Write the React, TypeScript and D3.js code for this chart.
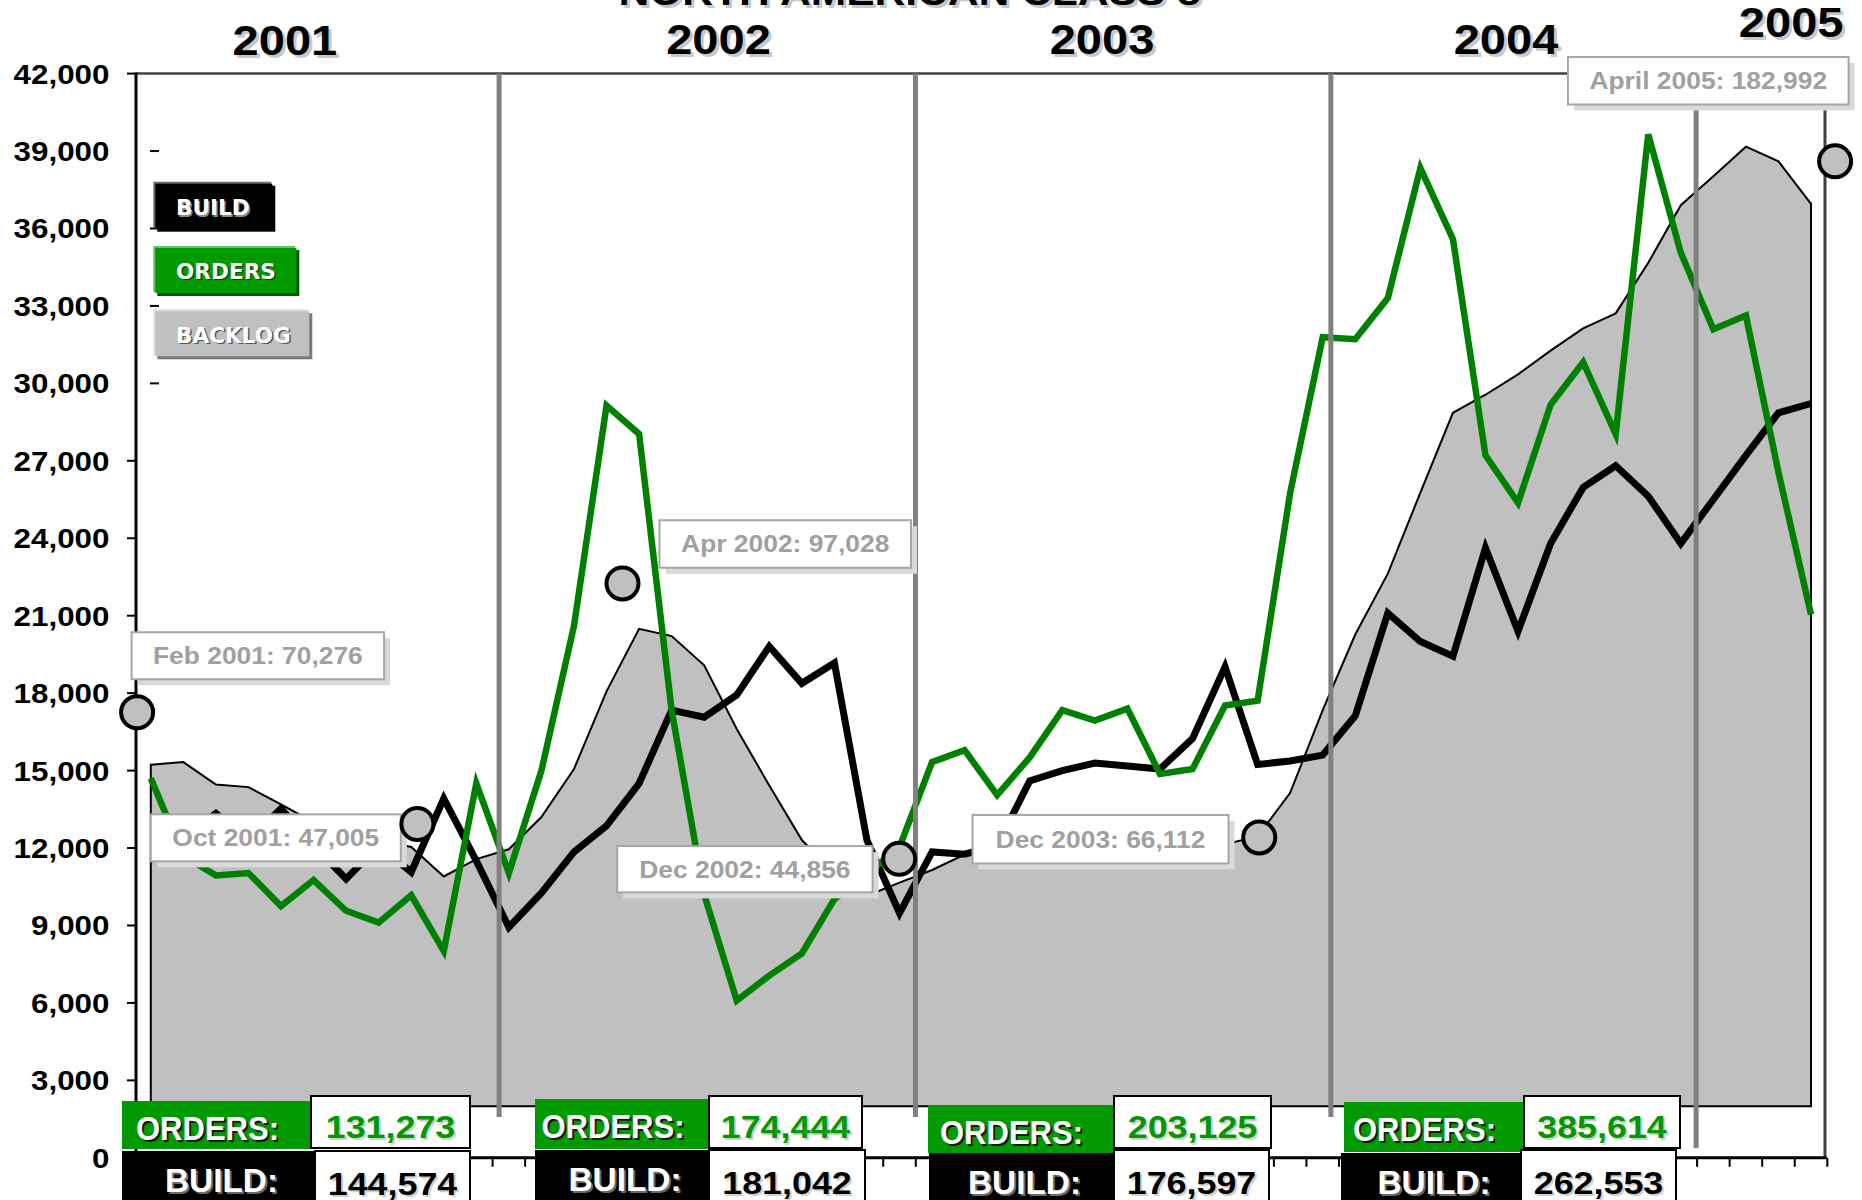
import React from 'react';
import * as d3 from 'd3';

// ---------- data ----------
const monthStarts = d3.timeMonth.range(new Date(2001, 0, 1), new Date(2005, 4, 1));
const monthLabels = monthStarts.map(d3.timeFormat('%b %Y'));

const ordersSeries = [
  14700, 11700, 10940, 11030, 9750, 10760, 9570, 9110, 10170, 8010, 14500, 11030,
  15000, 20600, 29140, 28040, 17340, 10200, 6090, 7060, 7920, 10020, 11000, 12040,
  15330, 15790, 14050, 15510, 17340, 16940, 17400, 14870, 15060, 17520, 17710, 25760,
  31790, 31710, 33310, 38340, 35590, 27210, 25370, 29170, 30820, 28040, 39650, 35060,
  32100, 32630, 26550, 21050,
];
const buildSeries = [
  12600, 12400, 13340, 12300, 13530, 12100, 10800, 12100, 11070, 13920, 11500, 8930,
  10260, 11850, 12860, 14500, 17340, 17070, 17930, 19810, 18380, 19170, 12300, 9480,
  11850, 11760, 12100, 14600, 15000, 15290, 15180, 15060, 16240, 19020, 15240, 15370,
  15600, 17120, 21100, 20000, 19430, 23620, 20400, 23800, 25970, 26810, 25630, 23800,
  25500, 27210, 28860, 29220,
];
const backlogSeries = [
  15230, 15330, 14460, 14360, 13690, 13000, 12600, 12300, 12040, 10900, 11570, 11950,
  13200, 15060, 18070, 20490, 20210, 19080, 16610, 14420, 12310, 11000, 10150, 10660,
  11150, 11750, 11950, 12050, 12100, 12150, 12150, 12150, 12150, 12150, 12450, 14140,
  17340, 20270, 22630, 25770, 28860, 29560, 30350, 31270, 32130, 32710, 34670, 36900,
  38020, 39170, 38600, 36950,
];
const backlogBaseline = 2000;

const yTickValues = [0, 3000, 6000, 9000, 12000, 15000, 18000, 21000, 24000, 27000, 30000, 33000, 36000, 39000, 42000];
const yTickLabels = ['0', '3,000', '6,000', '9,000', '12,000', '15,000', '18,000', '21,000', '24,000', '27,000', '30,000', '33,000', '36,000', '39,000', '42,000'];

const chartTitle = 'NORTH AMERICAN CLASS 8';
const yearHeaders = ['2001', '2002', '2003', '2004', '2005'];
const yearHeaderAt = [4.12, 17.44, 29.22, 41.63, 50.39];
const yearBoundaries = [10.7, 23.49, 36.25, 47.47];

const summaryYears = ['2001', '2002', '2003', '2004'];
const ordersTotals = [131273, 174444, 203125, 385614];
const buildTotals = [144574, 181042, 176597, 262553];

const noteTexts = ['Feb 2001: 70,276', 'Oct 2001: 47,005', 'Apr 2002: 97,028', 'Dec 2002: 44,856', 'Dec 2003: 66,112', 'April 2005: 182,992'];
const noteAt = [-0.42, 8.19, 14.49, 22.99, 34.05, 51.74];
const noteValue = [17260, 12930, 22250, 11580, 12410, 38600];

const legendNames = ['BUILD', 'ORDERS', 'BACKLOG'];

// ---------- layout / style ----------
const W = 1862;
const H = 1200;
const X0 = 134.5, X1 = 1827.3, Y0 = 1157.8, Y1 = 73.6;
const AXIS_X = 136;
const RIGHT_X = 1825;
const SANS = "'Liberation Sans', Arial, Helvetica, sans-serif";
const DEJAVU = "'DejaVu Sans', Verdana, sans-serif";
const GREEN_LINE = '#008000';
const GREEN_BOX = '#009900';
const SX = 1.12;

const yearHeaderBaseline = [55, 54, 54, 54, 37];
const separatorBottom = [1117, 1117, 1117, 1148];

const noteBoxes = [
  [-5.5, -80, 252.5, 47],
  [-266.6, -9.7, 250, 47],
  [37, -63.2, 251.5, 47.5],
  [-282, -12.8, 255.4, 46.3],
  [-286.7, -22.5, 256, 48.5],
  [-267.2, -104.4, 280.7, 47.5],
];

const legendBoxes = [
  { x: 153.3, y: 181.7, w: 118, h: 46, hi: '#6e6e6e', main: '#000000', lo: '#000000', ts: '#8a8a8a', ty: 215 },
  { x: 153.3, y: 246, w: 142, h: 46, hi: '#66c266', main: GREEN_BOX, lo: '#005a00', ts: '#005000', ty: 278.5 },
  { x: 153.3, y: 309.3, w: 155, h: 46, hi: '#dcdcdc', main: '#c0c0c0', lo: '#7a7a7a', ts: '#555555', ty: 342.7 },
];

const summaryLayout = [
  { ol: [122, 1101, 189, 48], ov: [311, 1096, 159, 52], bl: [122, 1151, 193, 60], bv: [315, 1151, 155, 60] },
  { ol: [535, 1099, 174, 50], ov: [709, 1096, 153, 52], bl: [535, 1150, 174, 60], bv: [709, 1150, 156, 60] },
  { ol: [928, 1105, 185, 48], ov: [1114, 1096, 157, 52], bl: [929, 1153, 185, 60], bv: [1114, 1150, 155, 60] },
  { ol: [1344, 1102, 179, 50], ov: [1524, 1096, 156, 52], bl: [1341, 1153, 180, 60], bv: [1521, 1150, 155, 60] },
];

const x = d3.scaleLinear().domain([-0.5, 51.5]).range([X0, X1]);
const y = d3.scaleLinear().domain([0, 42000]).range([Y0, Y1]);
const fmt = d3.format(',');

function Txt(props: any) {
  const { x, y, sx = 1, size, fill, anchor = 'middle', family = SANS, weight = 700, shadow, sdx = 2, sdy = 2, textLength, children } = props;
  const common: any = {
    fontFamily: family,
    fontSize: size,
    fontWeight: weight,
    textAnchor: anchor,
  };
  if (textLength) {
    common.textLength = textLength;
    common.lengthAdjust = 'spacingAndGlyphs';
  }
  return (
    <g transform={`translate(${x},${y}) scale(${sx},1)`}>
      {shadow && (
        <text x={sdx / sx} y={sdy} fill={shadow} {...common}>
          {children}
        </text>
      )}
      <text x={0} y={0} fill={fill} {...common}>
        {children}
      </text>
    </g>
  );
}

export default function App() {
  const lineGen = d3
    .line<number>()
    .x((_, i) => x(i))
    .y((d) => y(d));
  const areaGen = d3
    .area<number>()
    .x((_, i) => x(i))
    .y0(y(backlogBaseline))
    .y1((d) => y(d));

  const xTickIdx = d3.range(-0.5, 52, 1);

  return (
    <svg
      width={W}
      height={H}
      viewBox={`0 0 ${W} ${H}`}
      style={{ position: 'absolute', left: 0, top: 0, display: 'block', background: '#fff' }}
    >
      <rect x={0} y={0} width={W} height={H} fill="#ffffff" />

      {/* backlog area */}
      <path d={areaGen(backlogSeries) || ''} fill="#c0c0c0" stroke="#000" strokeWidth={2} strokeLinejoin="miter" />

      {/* build & orders */}
      <path d={lineGen(buildSeries) || ''} fill="none" stroke="#000" strokeWidth={7} strokeLinejoin="miter" strokeMiterlimit={4} />
      <path d={lineGen(ordersSeries) || ''} fill="none" stroke={GREEN_LINE} strokeWidth={6.5} strokeLinejoin="miter" strokeMiterlimit={4} />

      {/* frame */}
      <line x1={AXIS_X} x2={RIGHT_X} y1={Y1} y2={Y1} stroke="#404040" strokeWidth={2.5} />
      <line x1={RIGHT_X} x2={RIGHT_X} y1={Y1} y2={Y0} stroke="#404040" strokeWidth={3} />

      {/* year separators */}
      {yearBoundaries.map((b, i) => (
        <line key={'sep' + i} x1={x(b)} x2={x(b)} y1={Y1} y2={separatorBottom[i]} stroke="#808080" strokeWidth={5} />
      ))}

      {/* axes */}
      <line x1={AXIS_X} x2={AXIS_X} y1={Y1 - 1} y2={Y0 + 1} stroke="#000" strokeWidth={3} />
      <line x1={AXIS_X} x2={RIGHT_X + 1.5} y1={Y0} y2={Y0} stroke="#000" strokeWidth={3} />
      {xTickIdx.map((t) => (
        <line key={'xt' + t} x1={x(t)} x2={x(t)} y1={Y0} y2={Y0 + 9} stroke="#000" strokeWidth={2} />
      ))}
      {yTickValues.map((v, i) => {
        const inner = v >= 30000 && v < 42000;
        return (
          <g key={'yt' + v}>
            {inner ? (
              <line x1={150} x2={159} y1={y(v)} y2={y(v)} stroke="#000" strokeWidth={2} />
            ) : (
              <line x1={127} x2={AXIS_X} y1={y(v)} y2={y(v)} stroke="#000" strokeWidth={2} />
            )}
            <Txt x={109.5} y={y(v) + 10} sx={SX} size={28} fill="#000" anchor="end">
              {yTickLabels[i]}
            </Txt>
          </g>
        );
      })}

      {/* title & year headers */}
      <Txt x={909.6} y={5} sx={SX} size={38} fill="#000" shadow="#c8c8c8" sdx={3} sdy={3}>
        {chartTitle}
      </Txt>
      {yearHeaders.map((yr, i) => (
        <Txt key={'yh' + yr} x={x(yearHeaderAt[i])} y={yearHeaderBaseline[i]} sx={SX} size={42} fill="#000" shadow="#c8c8c8" sdx={3} sdy={3}>
          {yr}
        </Txt>
      ))}

      {/* legend */}
      {legendNames.map((name, i) => {
        const b = legendBoxes[i];
        return (
          <g key={'lg' + name}>
            <rect x={b.x + 4} y={b.y + 4} width={b.w} height={b.h} fill={b.lo} />
            <rect x={b.x} y={b.y} width={b.w} height={b.h} fill={b.hi} />
            <rect x={b.x + 2} y={b.y + 2} width={b.w - 1} height={b.h - 1} fill={b.main} />
            <Txt x={176} y={b.ty} size={21.6} family={DEJAVU} fill="#ffffff" anchor="start" shadow={b.ts} sdx={1.5} sdy={1.5}>
              {name}
            </Txt>
          </g>
        );
      })}

      {/* annotations */}
      {noteTexts.map((txt, i) => {
        const mx = x(noteAt[i]);
        const my = y(noteValue[i]);
        const [dx, dy, w, h] = noteBoxes[i];
        const bx = mx + dx;
        const by = my + dy;
        return (
          <g key={'note' + i}>
            <rect x={bx + 6} y={by + 6} width={w} height={h} fill="#d9d9d9" />
            <rect x={bx} y={by} width={w} height={h} fill="#ffffff" stroke="#a6a6a6" strokeWidth={2} />
            <Txt x={bx + w / 2} y={by + h / 2 + 8.5} sx={1.1} size={24} fill="#a0a0a0">
              {txt}
            </Txt>
          </g>
        );
      })}
      {noteTexts.map((txt, i) => (
        <circle key={'mk' + i} cx={x(noteAt[i])} cy={y(noteValue[i])} r={16} fill="#c0c0c0" stroke="#000" strokeWidth={4} />
      ))}

      {/* yearly totals */}
      {summaryYears.map((yr, i) => {
        const L = summaryLayout[i];
        const [olx, oly, olw, olh] = L.ol;
        const [ovx, ovy, ovw, ovh] = L.ov;
        const [blx, bly, blw, blh] = L.bl;
        const [bvx, bvy, bvw, bvh] = L.bv;
        return (
          <g key={'sum' + yr}>
            <rect x={olx} y={oly} width={olw} height={olh} fill={GREEN_BOX} />
            <rect x={ovx} y={ovy} width={ovw} height={ovh} fill="#ffffff" stroke="#000" strokeWidth={2} />
            <rect x={blx} y={bly} width={blw} height={blh} fill="#000000" />
            <rect x={bvx} y={bvy} width={bvw} height={bvh} fill="#ffffff" stroke="#000" strokeWidth={2} />
            <Txt x={olx + olw / 2 - 9} y={oly + 39} size={33} fill="#ffffff" shadow="#1a1a1a" textLength={143}>
              ORDERS:
            </Txt>
            <Txt x={ovx + ovw / 2} y={ovy + 42} sx={SX} size={32} fill={GREEN_BOX} shadow="#cfcfcf">
              {fmt(ordersTotals[i])}
            </Txt>
            <Txt x={blx + blw / 2 + 3} y={bly + 41} size={33} fill="#ffffff" shadow="#6a6a6a" textLength={113}>
              BUILD:
            </Txt>
            <Txt x={bvx + bvw / 2} y={bvy + 44} sx={SX} size={32} fill="#000000" shadow="#cfcfcf">
              {fmt(buildTotals[i])}
            </Txt>
          </g>
        );
      })}
      <title>{monthLabels[0] + ' – ' + monthLabels[monthLabels.length - 1]}</title>
    </svg>
  );
}
